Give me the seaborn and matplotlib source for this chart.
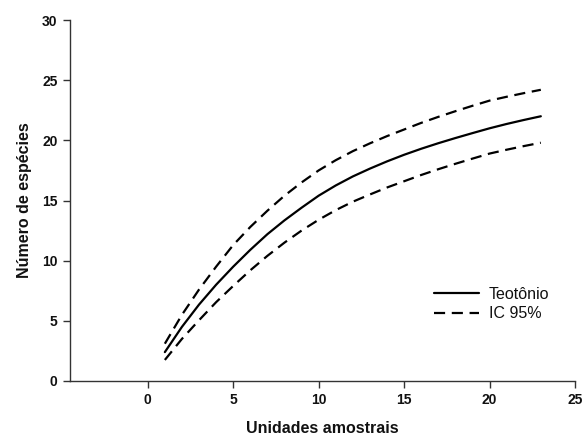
import numpy as np
import pandas as pd
import matplotlib
matplotlib.use("Agg")
import matplotlib.pyplot as plt
import seaborn as sns

units = list(range(1, 24))
teotonio = [2.4, 4.5, 6.35, 8.0, 9.5, 10.9, 12.2, 13.35, 14.4, 15.4, 16.25, 17.0,
            17.65, 18.25, 18.8, 19.3, 19.76, 20.19, 20.6, 21.0, 21.36, 21.69, 22.0]
ic_upper = [3.1, 5.5, 7.6, 9.5, 11.3, 12.8, 14.15, 15.4, 16.5, 17.5, 18.35, 19.1,
            19.75, 20.35, 20.9, 21.45, 21.95, 22.42, 22.87, 23.3, 23.62, 23.92, 24.2]
ic_lower = [1.75, 3.5, 5.05, 6.55, 7.9, 9.2, 10.4, 11.5, 12.5, 13.4, 14.2, 14.9,
            15.5, 16.08, 16.6, 17.12, 17.6, 18.05, 18.48, 18.9, 19.22, 19.52, 19.8]
x_ticks = [0, 5, 10, 15, 20, 25]
y_ticks = [0, 5, 10, 15, 20, 25, 30]

sns.set_theme(style="white")
plt.rcParams['font.family'] = ['Liberation Sans', 'DejaVu Sans']
plt.rcParams['text.color'] = '#111111'
plt.rcParams['axes.labelcolor'] = '#111111'
plt.rcParams['xtick.color'] = '#111111'
plt.rcParams['ytick.color'] = '#111111'

df = pd.DataFrame({"x": units, "mean": teotonio, "up": ic_upper, "lo": ic_lower})

fig = plt.figure(figsize=(5.85, 4.43), dpi=100)
ax = fig.add_axes([70/585, 1-381/443, 505/585, 361/443])

dash = (0, (5, 3))
sns.lineplot(data=df, x="x", y="mean", ax=ax, color="black", lw=1.6, label="Teotônio")
sns.lineplot(data=df, x="x", y="up", ax=ax, color="black", lw=1.6,
             linestyle=dash, label="IC 95%")
sns.lineplot(data=df, x="x", y="lo", ax=ax, color="black", lw=1.6,
             linestyle=dash, label="_nolegend_")

ax.set_xlim(-4.55, 25)
ax.set_ylim(0, 30)
ax.set_xticks(x_ticks)
ax.set_yticks(y_ticks)
ax.set_xticklabels([str(t) for t in x_ticks], fontsize=10, fontweight="bold")
ax.set_yticklabels([str(t) for t in y_ticks], fontsize=10, fontweight="bold")
ax.tick_params(direction="out", length=5, width=1, color="#333333", pad=4,
               bottom=True, left=True)
for s in ["top", "right"]:
    ax.spines[s].set_visible(False)
for s in ["left", "bottom"]:
    ax.spines[s].set_color("#333333")
    ax.spines[s].set_linewidth(1)
ax.set_xlabel("Unidades amostrais", fontsize=11.5, fontweight="bold", labelpad=10)
ax.set_ylabel("Número de espécies", fontsize=11.5, fontweight="bold", labelpad=7)
ax.grid(False)

leg = ax.legend(loc="center left", bbox_to_anchor=((420-70)/505, (381-304)/361),
                frameon=False, fontsize=11.5, handlelength=2.8, handletextpad=0.6,
                labelspacing=0.3)

fig.savefig("out.png", dpi=100)
